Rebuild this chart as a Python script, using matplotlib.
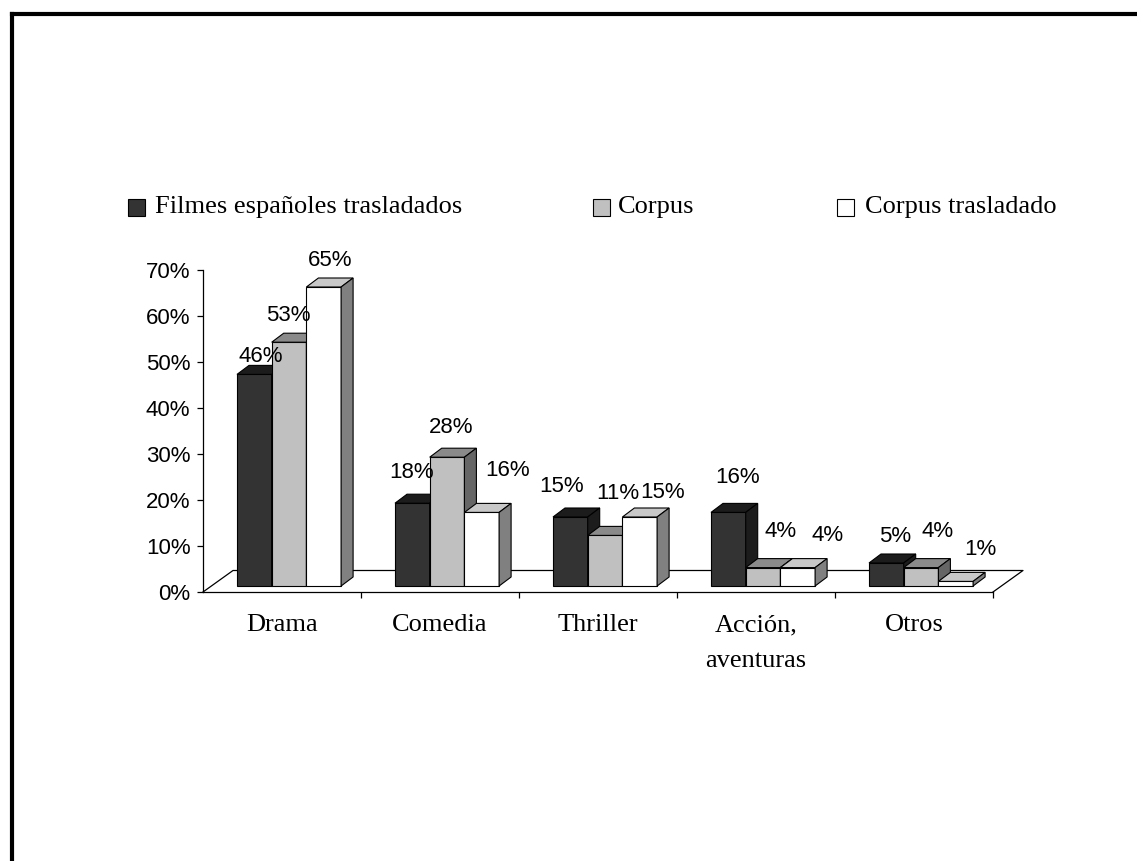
import matplotlib
matplotlib.use("Agg")
import matplotlib.pyplot as plt
from matplotlib.patches import Polygon, Rectangle
from matplotlib.lines import Line2D

plt.rcParams['font.family'] = ['Liberation Serif', 'DejaVu Serif']

# ---- data -------------------------------------------------------------
categories = ["Drama", "Comedia", "Thriller", "Acción,\naventuras", "Otros"]
series_names = ["Filmes españoles trasladados", "Corpus", "Corpus trasladado"]
filmes_trasladados = [46, 18, 15, 16, 5]
corpus = [53, 28, 11, 4, 4]
corpus_trasladado = [65, 16, 15, 4, 1]
y_ticks = [0, 10, 20, 30, 40, 50, 60, 70]

# ---- styling ----------------------------------------------------------
# (front, top, side) colours for each series
face_colors = [
    ("#333333", "#1c1c1c", "#1c1c1c"),
    ("#c0c0c0", "#8a8a8a", "#666666"),
    ("#ffffff", "#c8c8c8", "#808080"),
]
# per-label nudges (pixels) for the value labels, one row per category
label_nudge = [
    [(0, 18), (-7, 27), (0, 27)],
    [(-7, 31), (-2, 30), (20, 42)],
    [(-15, 30), (7, 42), (17, 25)],
    [(3, 35), (12, 36), (24, 32)],
    [(3, 27), (11, 36), (19, 32)],
]
num_font = ['Liberation Sans', 'DejaVu Sans']
num_size = 16
text_size = 19

W, H, DPI = 1137, 861, 100
fig = plt.figure(figsize=(W / DPI, H / DPI), dpi=DPI)
fig.patch.set_facecolor("white")


def fx(px):
    return px / W


def fy(py):
    return 1 - py / H


# plotting area in pixels: x from 203 to 993, y (from top) 270 .. 592
x0_px, x1_px, ytop_px, ybot_px = 203, 993, 270, 592
ax = fig.add_axes([fx(x0_px), fy(ybot_px), (x1_px - x0_px) / W, (ybot_px - ytop_px) / H])
ax.set_xlim(0, len(categories))
ax.set_ylim(0, 70)
ax.set_facecolor("none")

px_x = (x1_px - x0_px) / len(categories)   # pixels per category
px_y = (ybot_px - ytop_px) / 70.0          # pixels per percent


def dx(px):
    return px / px_x


def dy(px):
    return px / px_y


# floor outline (pseudo 3D)
floor_dx, floor_dy = dx(30), dy(21.5)
n = len(categories)
ax.add_line(Line2D([0, floor_dx, n + floor_dx, n], [0, floor_dy, floor_dy, 0],
                   color="black", lw=0.9, clip_on=False, zorder=1))

# bars
series = [filmes_trasladados, corpus, corpus_trasladado]
bar_w = dx(34.7)
start = dx(34)
base = dy(6)
top_dx, top_dy = dx(12), dy(9)
lw = 0.8
for ci in range(n):
    for si, vals in enumerate(series):
        v = vals[ci]
        front, top, side = face_colors[si]
        xl = ci + start + si * bar_w
        xr = xl + bar_w
        yb = base
        yt = base + v
        z = 3 + si
        ax.add_patch(Polygon([(xl, yb), (xr, yb), (xr, yt), (xl, yt)], closed=True,
                             facecolor=front, edgecolor="black", lw=lw, clip_on=False, zorder=z))
        ax.add_patch(Polygon([(xl, yt), (xr, yt), (xr + top_dx, yt + top_dy), (xl + top_dx, yt + top_dy)],
                             closed=True, facecolor=top, edgecolor="black", lw=lw, clip_on=False, zorder=z))
        ax.add_patch(Polygon([(xr, yb), (xr + top_dx, yb + top_dy), (xr + top_dx, yt + top_dy), (xr, yt)],
                             closed=True, facecolor=side, edgecolor="black", lw=lw, clip_on=False, zorder=z))
        nx, ny = label_nudge[ci][si]
        ax.annotate(f"{v}%", xy=(xl + bar_w / 2 + top_dx / 2, yt),
                    xytext=(nx * 72 / DPI, ny * 72 / DPI), textcoords="offset points",
                    ha="center", va="center", fontsize=num_size, family=num_font,
                    zorder=10, annotation_clip=False)

# axes styling
for s in ("top", "right"):
    ax.spines[s].set_visible(False)
for s in ("left", "bottom"):
    ax.spines[s].set_linewidth(0.9)
ax.set_yticks(y_ticks)
ax.set_yticklabels([f"{t}%" for t in y_ticks], family=num_font, fontsize=num_size)
ax.tick_params(axis="y", length=4, width=0.9, pad=5)
ax.set_xticks(range(1, n + 1))
ax.set_xticklabels([])
ax.tick_params(axis="x", which="major", length=4, width=0.9, direction="out")
ax.set_xticks([i + 0.5 for i in range(n)], minor=True)
ax.set_xticklabels(categories, minor=True, fontsize=text_size, linespacing=1.8)
ax.tick_params(axis="x", which="minor", length=0, pad=16)

# legend: swatch + label for each series
legend_swatch_x = [128, 593, 837]
legend_text_x = [155, 618, 865]
legend_y = 207
sw = 17
for i, name in enumerate(series_names):
    fig.add_artist(Rectangle((fx(legend_swatch_x[i]), fy(legend_y + sw / 2)), sw / W, sw / H,
                             transform=fig.transFigure, facecolor=face_colors[i][0],
                             edgecolor="black", lw=0.8))
    fig.text(fx(legend_text_x[i]), fy(legend_y), name, ha="left", va="center",
             fontsize=text_size)

# outer frame (top and left edges)
fig.add_artist(Line2D([fx(12), 1.0], [fy(14), fy(14)], color="black", lw=3,
                      transform=fig.transFigure, solid_capstyle="projecting"))
fig.add_artist(Line2D([fx(12), fx(12)], [fy(14), 0], color="black", lw=3,
                      transform=fig.transFigure, solid_capstyle="projecting"))

fig.savefig("out.png", dpi=DPI)
